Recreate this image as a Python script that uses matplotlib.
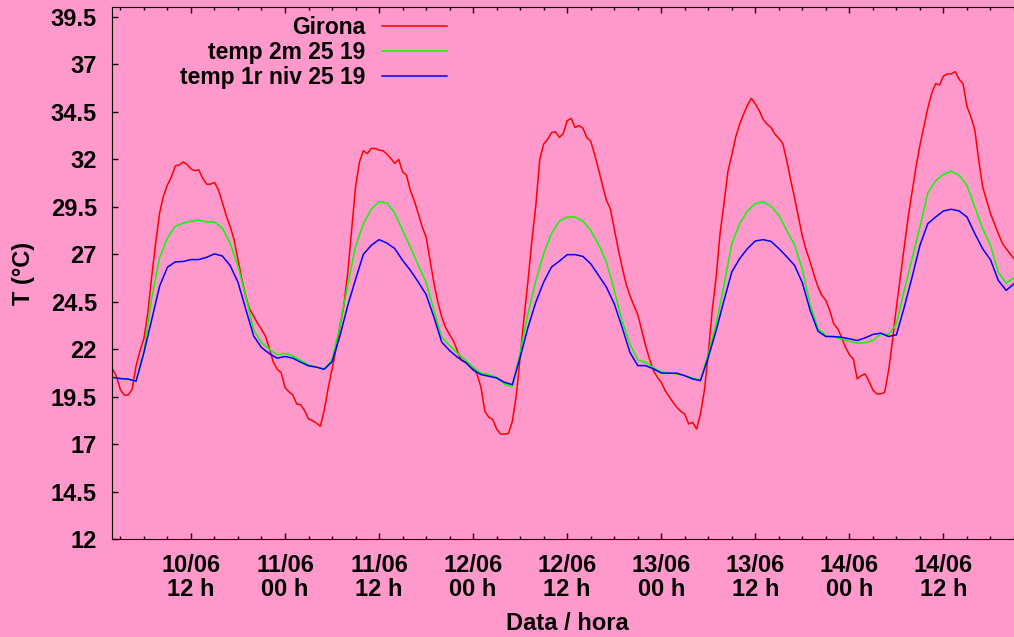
import numpy as np
import matplotlib.pyplot as plt
from matplotlib.ticker import MultipleLocator, FormatStrFormatter

# hores comptades des del 10/06 a les 00 h
hores_obs = np.arange(2, 117.5, 0.5)
hores_model = np.arange(2, 118, 1)

# observacions de Girona (cada mitja hora)
girona = [
    20.95, 20.57, 19.87, 19.59, 19.59, 19.90, 21.13, 21.91, 22.56, 23.92,
    25.85, 27.60, 29.17, 30.08, 30.65, 31.06, 31.65, 31.70, 31.86, 31.73,
    31.49, 31.40, 31.44, 31.00, 30.69, 30.69, 30.78, 30.39, 29.75, 29.03,
    28.47, 27.77, 26.72, 25.67, 24.76, 24.10, 23.75, 23.36, 23.05, 22.70,
    22.04, 21.34, 20.95, 20.78, 19.99, 19.76, 19.59, 19.12, 19.08, 18.77,
    18.33, 18.24, 18.12, 17.95, 18.77, 19.94, 20.95, 22.00, 23.20, 24.30,
    26.00, 28.30, 30.55, 31.86, 32.45, 32.30, 32.57, 32.57, 32.48, 32.45,
    32.27, 32.04, 31.78, 31.99, 31.34, 31.16, 30.34, 29.81, 29.14, 28.44,
    27.91, 26.68, 25.48, 24.48, 23.69, 23.13, 22.78, 22.43, 21.90, 21.41,
    21.32, 21.23, 21.02, 20.70, 20.00, 18.73, 18.42, 18.31, 17.80, 17.54,
    17.54, 17.57, 18.20, 19.56, 21.58, 23.69, 25.62, 27.73, 29.58, 32.00,
    32.80, 33.05, 33.40, 33.45, 33.15, 33.36, 34.03, 34.15, 33.67, 33.78,
    33.64, 33.15, 32.95, 32.25, 31.46, 30.63, 29.84, 29.40, 28.35, 27.29,
    26.33, 25.45, 24.83, 24.31, 23.83, 23.02, 22.19, 21.49, 20.88, 20.53,
    20.26, 19.82, 19.51, 19.21, 18.94, 18.73, 18.59, 18.07, 18.15, 17.80,
    18.59, 19.82, 21.76, 24.04, 25.80, 28.09, 29.67, 31.34, 32.22, 33.18,
    33.85, 34.38, 34.85, 35.21, 34.91, 34.56, 34.10, 33.85, 33.68, 33.32,
    33.10, 32.83, 31.95, 30.93, 29.98, 28.96, 27.94, 27.21, 26.59, 25.89,
    25.27, 24.83, 24.57, 24.04, 23.34, 23.08, 22.64, 22.11, 21.72, 21.49,
    20.44, 20.61, 20.70, 20.31, 19.86, 19.65, 19.65, 19.73, 20.88, 22.46,
    24.22, 25.80, 27.38, 28.96, 30.28, 31.60, 32.74, 33.71, 34.68, 35.47,
    35.98, 35.91, 36.38, 36.49, 36.49, 36.61, 36.21, 35.98, 34.77, 34.24,
    33.54, 31.95, 30.55, 29.84, 29.14, 28.61, 28.08, 27.59, 27.29, 27.03,
    26.77,
]

# model: temperatura a 2 m (horaria)
temp_2m = [
    20.52, 20.46, 20.43, 20.32, 21.83, 24.71, 26.81, 27.86, 28.47, 28.64,
    28.73, 28.80, 28.70, 28.70, 28.38, 27.59, 26.37, 24.80, 23.02, 22.35,
    22.00, 21.71, 21.79, 21.65, 21.41, 21.18, 21.06, 20.95, 21.44, 23.20,
    25.40, 27.40, 28.61, 29.37, 29.77, 29.70, 29.18, 28.26, 27.38, 26.42,
    25.54, 24.04, 22.64, 22.20, 21.79, 21.44, 21.05, 20.75, 20.67, 20.53,
    20.17, 20.03, 21.84, 23.87, 25.62, 27.03, 28.09, 28.74, 28.96, 28.96,
    28.75, 28.26, 27.52, 26.59, 25.10, 23.52, 22.28, 21.44, 21.32, 21.02,
    20.82, 20.75, 20.70, 20.61, 20.49, 20.38, 21.76, 23.34, 25.36, 27.56,
    28.61, 29.28, 29.67, 29.76, 29.54, 29.05, 28.26, 27.50, 26.20, 24.35,
    23.08, 22.72, 22.64, 22.55, 22.41, 22.32, 22.34, 22.46, 22.81, 22.78,
    23.34, 25.10, 26.77, 28.44, 30.23, 30.86, 31.21, 31.37, 31.16, 30.63,
    29.49, 28.35, 27.47, 26.06, 25.48, 25.76,
]

# model: temperatura al primer nivell (horaria)
temp_1r_niv = [
    20.52, 20.46, 20.43, 20.32, 21.83, 23.57, 25.32, 26.32, 26.60, 26.62,
    26.72, 26.72, 26.84, 27.02, 26.91, 26.41, 25.53, 24.10, 22.70, 22.09,
    21.77, 21.53, 21.62, 21.53, 21.32, 21.13, 21.06, 20.95, 21.34, 22.70,
    24.30, 25.68, 27.00, 27.47, 27.77, 27.59, 27.30, 26.68, 26.15, 25.54,
    24.88, 23.69, 22.37, 21.93, 21.58, 21.32, 20.91, 20.67, 20.58, 20.49,
    20.26, 20.14, 21.58, 23.16, 24.48, 25.54, 26.33, 26.64, 26.98, 26.98,
    26.89, 26.50, 25.89, 25.27, 24.40, 23.16, 21.84, 21.14, 21.14, 20.97,
    20.75, 20.74, 20.74, 20.61, 20.44, 20.35, 21.58, 22.99, 24.57, 26.07,
    26.77, 27.30, 27.70, 27.77, 27.68, 27.30, 26.88, 26.42, 25.50, 24.04,
    22.95, 22.67, 22.67, 22.63, 22.55, 22.46, 22.60, 22.78, 22.85, 22.67,
    22.76, 24.22, 25.80, 27.47, 28.61, 28.96, 29.28, 29.37, 29.28, 28.96,
    28.09, 27.29, 26.71, 25.62, 25.10, 25.45,
]

ticks_hores = [12, 24, 36, 48, 60, 72, 84, 96, 108]
ticks_etiquetes = ['10/06\n12 h', '11/06\n00 h', '11/06\n12 h', '12/06\n00 h',
                   '12/06\n12 h', '13/06\n00 h', '13/06\n12 h', '14/06\n00 h',
                   '14/06\n12 h']

plt.rcParams['font.family'] = ['Liberation Sans', 'DejaVu Sans']
plt.rcParams['font.weight'] = 'bold'
plt.rcParams['axes.labelweight'] = 'bold'
plt.rcParams['font.size'] = 17

rosa = '#ff99cc'
fig = plt.figure(figsize=(10.14, 6.37), dpi=100, facecolor=rosa)
ax = fig.add_axes([0.1107, 0.1534, 0.8893, 0.8352])
ax.set_facecolor(rosa)

ax.plot(hores_obs, girona, color='#ff0000', lw=1.1, label='Girona')
ax.plot(hores_model, temp_2m, color='#00ff00', lw=1.1, label='temp 2m 25 19')
ax.plot(hores_model, temp_1r_niv, color='#0000ff', lw=1.1, label='temp 1r niv 25 19')

ax.set_xlim(1.96, 117.0)
ax.set_ylim(12, 40)

ax.set_xticks(ticks_hores, ticks_etiquetes)
ax.xaxis.set_minor_locator(MultipleLocator(3))
ax.set_yticks(np.arange(12, 40, 2.5))
ax.yaxis.set_major_formatter(FormatStrFormatter('%g'))
for lab in ax.get_xticklabels():
    lab.set_linespacing(1.08)

ax.tick_params(which='both', direction='in', top=True, right=False, width=1)
ax.tick_params(which='major', length=4.3)
ax.tick_params(which='minor', length=2.2)
ax.tick_params(axis='x', pad=10.5)
ax.tick_params(axis='y', pad=11)
ax.spines['right'].set_visible(False)

ax.set_xlabel('Data / hora')
ax.set_ylabel('T (°C)')
ax.xaxis.set_label_coords(567 / 1014, 1 - 612 / 637, transform=fig.transFigure)
ax.yaxis.set_label_coords(35 / 1014, 1 - 273 / 637, transform=fig.transFigure)

ax.legend(loc='upper right', bbox_to_anchor=(447 / 1014, 1 - 16 / 637),
          bbox_transform=fig.transFigure, frameon=False, markerfirst=False,
          fontsize=16.5, handlelength=2.85, handletextpad=0.72, labelspacing=0.08,
          borderpad=0, borderaxespad=0)

fig.savefig('out.png', dpi=100, facecolor=rosa)
